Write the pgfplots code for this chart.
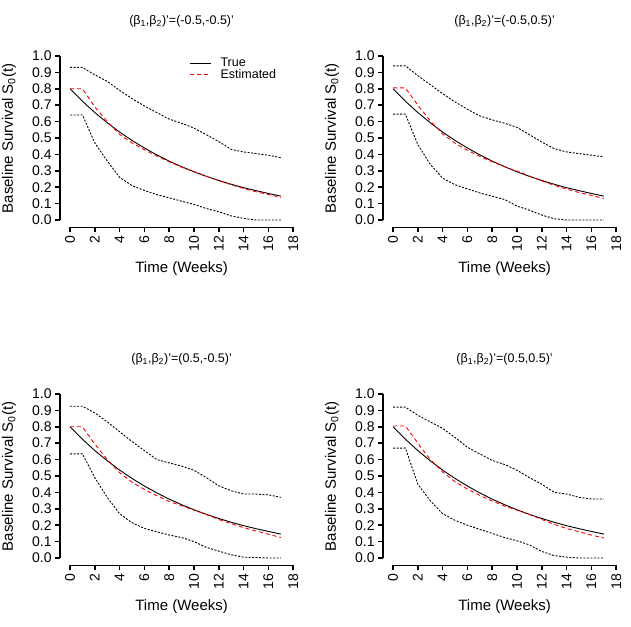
\documentclass[border=0pt]{standalone}
\usepackage{fontspec}
\setmainfont{Liberation Sans}
\usepackage{pgfplots}
\usepackage{pgfplotstable}
\pgfplotsset{compat=1.18}

\pgfplotstableread{
t tr est lo hi
0 0.800 0.800 0.640 0.930
1 0.724 0.800 0.640 0.930
2 0.655 0.690 0.470 0.885
3 0.593 0.600 0.360 0.845
4 0.536 0.522 0.260 0.790
5 0.485 0.470 0.210 0.740
6 0.439 0.428 0.180 0.695
7 0.397 0.390 0.155 0.655
8 0.359 0.355 0.135 0.615
9 0.325 0.322 0.115 0.590
10 0.294 0.295 0.095 0.560
11 0.266 0.267 0.070 0.520
12 0.241 0.240 0.050 0.478
13 0.218 0.215 0.025 0.430
14 0.197 0.192 0.010 0.415
15 0.179 0.172 0.000 0.405
16 0.162 0.155 0.000 0.395
17 0.146 0.138 0.000 0.380
}\dataA

\pgfplotstableread{
t tr est lo hi
0 0.800 0.805 0.645 0.940
1 0.724 0.805 0.645 0.940
2 0.655 0.700 0.460 0.880
3 0.593 0.605 0.340 0.825
4 0.536 0.525 0.255 0.770
5 0.485 0.468 0.215 0.720
6 0.439 0.425 0.190 0.675
7 0.397 0.388 0.165 0.635
8 0.359 0.355 0.145 0.610
9 0.325 0.325 0.125 0.590
10 0.294 0.298 0.085 0.565
11 0.266 0.268 0.060 0.520
12 0.241 0.238 0.030 0.475
13 0.218 0.212 0.008 0.435
14 0.197 0.188 0.000 0.415
15 0.179 0.168 0.000 0.405
16 0.162 0.150 0.000 0.395
17 0.146 0.132 0.000 0.385
}\dataB

\pgfplotstableread{
t tr est lo hi
0 0.800 0.800 0.635 0.925
1 0.724 0.800 0.635 0.925
2 0.655 0.695 0.490 0.885
3 0.593 0.600 0.370 0.830
4 0.536 0.520 0.270 0.770
5 0.485 0.462 0.215 0.710
6 0.439 0.418 0.180 0.655
7 0.397 0.380 0.160 0.600
8 0.359 0.345 0.140 0.580
9 0.325 0.318 0.125 0.560
10 0.294 0.292 0.100 0.535
11 0.266 0.265 0.065 0.490
12 0.241 0.235 0.042 0.440
13 0.218 0.210 0.020 0.410
14 0.197 0.185 0.005 0.390
15 0.179 0.165 0.003 0.390
16 0.162 0.145 0.000 0.385
17 0.146 0.125 0.000 0.370
}\dataC

\pgfplotstableread{
t tr est lo hi
0 0.800 0.805 0.670 0.920
1 0.724 0.805 0.670 0.920
2 0.655 0.700 0.450 0.870
3 0.593 0.600 0.350 0.830
4 0.536 0.525 0.270 0.790
5 0.485 0.465 0.230 0.735
6 0.439 0.420 0.200 0.675
7 0.397 0.382 0.175 0.635
8 0.359 0.347 0.150 0.595
9 0.325 0.317 0.125 0.570
10 0.294 0.292 0.105 0.535
11 0.266 0.265 0.080 0.490
12 0.241 0.235 0.040 0.450
13 0.218 0.205 0.015 0.400
14 0.197 0.180 0.005 0.390
15 0.179 0.160 0.000 0.370
16 0.162 0.140 0.000 0.360
17 0.146 0.122 0.000 0.360
}\dataD

\pgfplotsset{surv/.style={
  scale only axis, width=243pt, height=178pt,
  xmin=-0.8, xmax=18.8, ymin=-0.045, ymax=1.04,
  clip=false,
  axis x line*=bottom, axis y line*=left,
  axis line style={draw=none},
  xtick={0,2,4,6,8,10,12,14,16,18},
  ytick={0,0.1,0.2,0.3,0.4,0.5,0.6,0.7,0.8,0.9,1},
  tick align=outside, major tick length=5pt,
  tick style={black, line width=1.6pt},
  tick label style={font=\fontsize{14}{14}\selectfont},
  x tick label style={rotate=90, anchor=east},
  y tick label style={/pgf/number format/.cd, fixed, fixed zerofill, precision=1, /tikz/.cd},
  xlabel={Time (Weeks)}, ylabel={Baseline Survival S\textsubscript{0}(t)},
  label style={font=\fontsize{15}{15}\selectfont},
  xlabel style={at={(axis description cs:0.5,-0.23)}, anchor=center},
  ylabel style={at={(axis description cs:-0.21,0.5)}, anchor=center},
  title style={at={(axis description cs:0.5,1.125)}, anchor=center, font=\fontsize{12.5}{12.5}\selectfont},
  legend image code/.code={\draw[##1] (0pt,0pt) -- (21pt,0pt);},
  /pgf/number format/assume math mode=true,
}}
\newcommand{\panel}[1]{%
  \addplot[black, line width=0.9pt] table[x=t,y=tr]{#1};
  \addplot[red, line width=0.9pt, dash pattern=on 4pt off 3pt] table[x=t,y=est]{#1};
  \addplot[black, line width=0.9pt, dash pattern=on 2pt off 1.5pt] table[x=t,y=lo]{#1};
  \addplot[black, line width=0.9pt, dash pattern=on 2pt off 1.5pt] table[x=t,y=hi]{#1};
  \draw[line width=1.6pt] (axis cs:0,-0.045) -- (axis cs:18,-0.045);
  \draw[line width=1.6pt] (axis cs:-0.8,0) -- (axis cs:-0.8,1);
}

\begin{document}
\begin{tikzpicture}
\useasboundingbox (0pt,0pt) rectangle (631pt,626pt);
\begin{axis}[surv, at={(60.1pt,398.6pt)}, anchor=south west,
  title={(β\textsubscript{1},β\textsubscript{2})'=(-0.5,-0.5)'},
  legend style={draw=none, fill=none, at={(axis description cs:0.52,0.975)}, anchor=north west,
    font=\fontsize{12.5}{12.5}\selectfont, row sep=-2.5pt, legend cell align=left,
    nodes={inner xsep=9pt}}]
\panel{\dataA}
\legend{True,Estimated}
\end{axis}
\begin{axis}[surv, at={(383.1pt,398.6pt)}, anchor=south west,
  title={(β\textsubscript{1},β\textsubscript{2})'=(-0.5,0.5)'}]
\panel{\dataB}
\end{axis}
\begin{axis}[surv, at={(60.1pt,60.6pt)}, anchor=south west,
  title={(β\textsubscript{1},β\textsubscript{2})'=(0.5,-0.5)'}]
\panel{\dataC}
\end{axis}
\begin{axis}[surv, at={(383.1pt,60.6pt)}, anchor=south west,
  title={(β\textsubscript{1},β\textsubscript{2})'=(0.5,0.5)'}]
\panel{\dataD}
\end{axis}
\end{tikzpicture}
\end{document}
